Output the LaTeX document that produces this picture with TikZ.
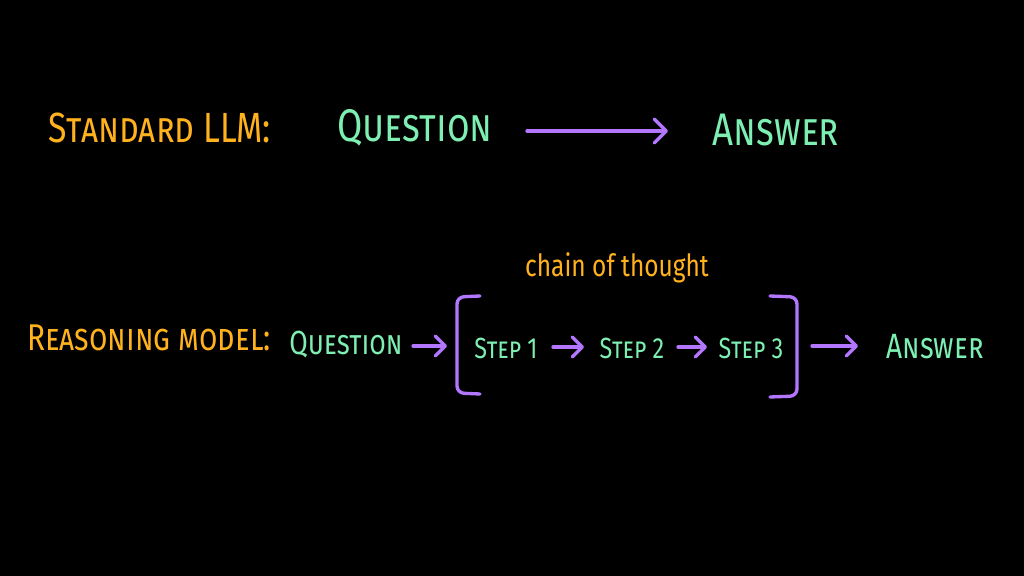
\documentclass[tikz,border=0pt]{standalone}
\usepackage{fontspec}
\setmainfont{Fira Sans}[FakeStretch=0.8]
\usetikzlibrary{arrows.meta,positioning}
\definecolor{label}{HTML}{FFB21E}
\definecolor{term}{HTML}{7EEFB2}
\definecolor{flow}{HTML}{B377FF}

\begin{document}
\begin{tikzpicture}[x=0.01cm,y=-0.01cm,
    lab/.style={text=label,inner sep=0pt,font=\scshape\fontsize{12}{14}\selectfont},
    term/.style={text=term,inner sep=0pt,font=\scshape\fontsize{13}{15}\selectfont},
    small/.style={text=term,inner sep=0pt,font=\scshape\fontsize{9.5}{12}\selectfont},
    stepbox/.style={text=term,inner sep=0pt,font=\scshape\fontsize{8.3}{10}\selectfont},
    link/.style={-{Straight Barb[round,length=1.2mm,width=2.4mm]},flow,line width=0.95pt,line cap=round},
    slink/.style={link,-{Straight Barb[round,length=1mm,width=2mm]}},
    bracket/.style={flow,line width=0.95pt,line cap=round,rounded corners=2pt}
  ]
    \useasboundingbox (0,0) rectangle (1024,576);
    \fill[black] (0,0) rectangle (1024,576);
    % standard row
    \node[lab] (std) at (160,128) {Standard LLM:};
    \node[term] (q1) at (415,128) {Question};
    \node[term] (a1) at (776,130) {Answer};
    \coordinate (q1out) at (527,131);
    \coordinate (a1in) at (668,131);
    \draw[link] (q1out) -- (a1in);
    % reasoning row
    \node[lab,font=\scshape\fontsize{10.6}{13}\selectfont] (rsn) at (149,338) {Reasoning model:};
    \node[small] (q2) at (346,345) {Question};
    \node[stepbox] (s1n) at (506,348) {Step 1};
    \node[stepbox] (s2n) at (632,348) {Step 2};
    \node[stepbox] (s3n) at (751,348) {Step 3};
    \node[small,font=\scshape\fontsize{10}{12}\selectfont] (a2) at (935,347) {Answer};
    \node[text=label,inner sep=0pt,font=\fontsize{8.7}{10}\selectfont] (cot) at (617,268) {chain of thought};
    % brackets
    \draw[bracket] (480,296) -- (457,297) -- (457,393) -- (480,394);
    \draw[bracket] (770,296) -- (797,297) -- (797,396) -- (770,397);
    \coordinate (q2out) at (413,346);
    \coordinate (lbin) at (447,346);
    \coordinate (s1out) at (553,347);
    \coordinate (s2in) at (584,347);
    \coordinate (s2out) at (678,347);
    \coordinate (s3in) at (707,347);
    \coordinate (rbout) at (812,346);
    \coordinate (a2in) at (858,346);
    \draw[slink] (q2out) -- (lbin);
    \draw[slink] (s1out) -- (s2in);
    \draw[slink] (s2out) -- (s3in);
    \draw[slink] (rbout) -- (a2in);
\end{tikzpicture}
\end{document}
